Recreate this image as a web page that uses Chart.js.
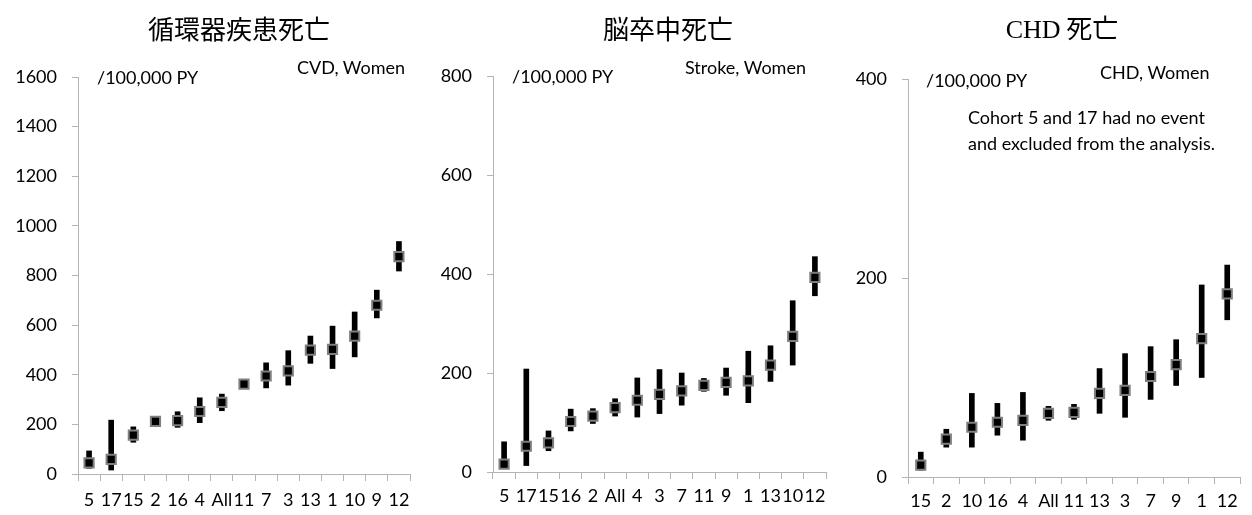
<!DOCTYPE html>
<html>
<head>
<meta charset="utf-8">
<script src="https://cdn.jsdelivr.net/npm/chart.js@4.4.0/dist/chart.umd.min.js"></script>
<style>
  body { margin: 0; background: #fff; width: 1252px; height: 515px; position: relative; overflow: hidden; font-family: Lato, sans-serif; color: #000; }
  .box { position: absolute; top: 0; height: 515px; }
  .t { position: absolute; white-space: nowrap; line-height: 1; }
  .title { font-family: "Noto Sans CJK JP", sans-serif; font-size: 26px; transform: translate(-50%, -50%); }
  .serif { font-family: "Liberation Serif", serif; }
  .note { font-size: 18px; transform: translateY(-50%); }
</style>
</head>
<body>

<div class="box" style="left:0;width:420px"><canvas id="cvd"></canvas></div>
<div class="box" style="left:420px;width:420px"><canvas id="stroke"></canvas></div>
<div class="box" style="left:840px;width:412px"><canvas id="chd"></canvas></div>

<div class="t title" style="left:239px;top:28px">循環器疾患死亡</div>
<div class="t title" style="left:668px;top:28px">脳卒中死亡</div>
<div class="t title" style="left:1062px;top:28px"><span class="serif">CHD</span> 死亡</div>

<div class="t note" style="left:97px;top:77px">/100,000 PY</div>
<div class="t note" style="left:297px;top:67px">CVD, Women</div>
<div class="t note" style="left:512px;top:76px">/100,000 PY</div>
<div class="t note" style="left:685px;top:67px">Stroke, Women</div>
<div class="t note" style="left:926px;top:80px">/100,000 PY</div>
<div class="t note" style="left:1100px;top:72px">CHD, Women</div>
<div class="t note" style="left:968px;top:117px">Cohort 5 and 17 had no event</div>
<div class="t note" style="left:968px;top:143px">and excluded from the analysis.</div>

<script>
// CVD, women
const cvdLabels = ['5','17','15','2','16','4','All','11','7','3','13','1','10','9','12'];
const cvdRate = [45, 59, 157, 212, 215, 252, 289, 362, 395, 416, 499, 502, 556, 680, 876];
const cvdLow  = [23, 16, 128, 197, 188, 207, 255, 351, 347, 358, 446, 425, 472, 629, 818];
const cvdHigh = [93, 217, 190, 231, 251, 307, 322, 376, 448, 497, 556, 596, 653, 741, 937];

// stroke, women
const strokeLabels = ['5','17','15','16','2','All','4','3','7','11','9','1','13','10','12'];
const strokeRate = [16, 52, 59, 102, 113, 130, 145, 157, 164, 175, 181, 184, 216, 274, 393];
const strokeLow  = [7, 13, 43, 83, 98, 113, 111, 118, 135, 163, 155, 140, 183, 216, 356];
const strokeHigh = [61, 208, 83, 127, 128, 148, 190, 207, 200, 189, 210, 244, 255, 346, 435];

// CHD, women (cohort 5 and 17 left out)
const chdLabels = ['15','2','10','16','4','All','11','13','3','7','9','1','12'];
const chdRate = [12, 38, 50, 55, 57, 64, 65, 84, 87, 101, 113, 139, 184];
const chdLow  = [7, 30, 30, 42, 37, 57, 58, 64, 60, 78, 92, 100, 158];
const chdHigh = [25, 48, 84, 74, 85, 71, 73, 109, 124, 131, 138, 193, 213];

Chart.defaults.font.family = 'Lato';
Chart.defaults.color = '#000';

const axisGrey = '#b4b4b4';

function panel(id, labels, rate, low, high, yMax, g) {
  new Chart(document.getElementById(id), {
    type: 'bar',
    data: {
      labels: labels,
      datasets: [{
        type: 'line',
        data: rate,
        showLine: false,
        pointStyle: 'rect',
        pointRadius: 6.5,
        backgroundColor: '#000',
        borderColor: '#7f7f7f',
        borderWidth: 2,
        order: 0
      }, {
        data: low.map((v, i) => [v, high[i]]),
        backgroundColor: '#000',
        barThickness: 5,
        order: 1
      }]
    },
    options: {
      responsive: true,
      maintainAspectRatio: false,
      animation: false,
      layout: { padding: { top: g.top, right: g.right, left: 0, bottom: 0 } },
      plugins: { legend: { display: false }, tooltip: { enabled: false } },
      scales: {
        x: {
          offset: true,
          grid: { offset: true, drawOnChartArea: false, color: axisGrey, tickLength: 7 },
          border: { color: axisGrey },
          ticks: { autoSkip: false, maxRotation: 0, minRotation: 0, padding: g.xPad, font: { size: 18 } },
          afterFit: s => { s.height = g.xH; }
        },
        y: {
          min: 0,
          max: yMax,
          grid: { drawOnChartArea: false, color: axisGrey, tickLength: 6 },
          border: { color: axisGrey },
          ticks: { stepSize: 200, padding: 15, font: { size: 18 }, callback: v => String(v) },
          afterFit: s => { s.width = g.yW; }
        }
      }
    }
  });
}

panel('cvd', cvdLabels, cvdRate, cvdLow, cvdHigh, 1600, { top: 77, right: 10, yW: 78, xH: 41, xPad: 8 });
panel('stroke', strokeLabels, strokeRate, strokeLow, strokeHigh, 800, { top: 76, right: 14, yW: 73, xH: 43, xPad: 6 });
panel('chd', chdLabels, chdRate, chdLow, chdHigh, 400, { top: 79, right: 12, yW: 68, xH: 38, xPad: 6 });
</script>
</body>
</html>
